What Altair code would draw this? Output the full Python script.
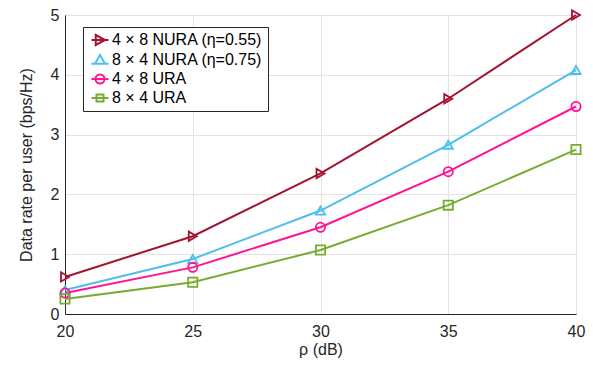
import altair as alt
import pandas as pd

rho = [20, 25, 30, 35, 40]
series_names = [
    "4 × 8 NURA (η=0.55)",
    "8 × 4 NURA (η=0.75)",
    "4 × 8 URA",
    "8 × 4 URA",
]
nura_4x8 = [0.62, 1.30, 2.35, 3.60, 5.00]
nura_8x4 = [0.40, 0.92, 1.73, 2.83, 4.08]
ura_4x8 = [0.35, 0.78, 1.45, 2.38, 3.47]
ura_8x4 = [0.25, 0.53, 1.07, 1.82, 2.75]
colors = ["#A2142F", "#4DBEEE", "#FF1493", "#77AC30"]
shapes = ["triangle-right", "triangle-up", "circle", "square"]
marker_sizes = [85, 85, 66, 46]
legend_shapes = [
    "M -1.7 0 L 1.7 0 M -0.85 -1 L 1 0 L -0.85 1 Z",
    "M -1.7 0.75 L 1.7 0.75 M -1 0.75 L 0 -1 L 1 0.75 Z",
    "M -1.7 0 L -0.9 0 M 0.9 0 L 1.7 0 M -0.9 0 A 0.9 0.9 0 1 0 0.9 0 A 0.9 0.9 0 1 0 -0.9 0 M -0.9 0 L 0.9 0",
    "M -1.7 0 L 1.7 0 M -0.7 -0.7 L 0.7 -0.7 L 0.7 0.7 L -0.7 0.7 Z",
]

rows = []
for name, vals in zip(series_names, [nura_4x8, nura_8x4, ura_4x8, ura_8x4]):
    for x, y in zip(rho, vals):
        rows.append({"series": name, "rho": x, "rate": y})
df = pd.DataFrame(rows)

FONT = "Liberation Sans"
xenc = alt.X("rho:Q", scale=alt.Scale(domain=[20, 40], nice=False),
             axis=alt.Axis(values=[20, 25, 30, 35, 40], title="ρ (dB)"))
yenc = alt.Y("rate:Q", scale=alt.Scale(domain=[0, 5], nice=False),
             axis=alt.Axis(values=[0, 1, 2, 3, 4, 5], title="Data rate per user (bps/Hz)"))

def cscale():
    return alt.Scale(domain=series_names, range=colors)

base = alt.Chart(df)
lines = base.mark_line(strokeWidth=2).encode(
    x=xenc, y=yenc,
    color=alt.Color("series:N", scale=cscale(), legend=None),
    detail="series:N",
)
points = base.mark_point(filled=False, strokeWidth=1.8, opacity=1).encode(
    x=xenc, y=yenc,
    color=alt.Color("series:N", scale=cscale(), legend=None),
    shape=alt.Shape("series:N", scale=alt.Scale(domain=series_names, range=shapes), legend=None),
    size=alt.Size("series:N", scale=alt.Scale(domain=series_names, range=marker_sizes), legend=None),
)
leg = alt.Legend(
    title=None, orient="none", legendX=18, legendY=12,
    strokeColor="#262626", fillColor="white", padding=5,
    labelFont=FONT, labelFontSize=16, labelColor="#000000",
    symbolSize=100, symbolStrokeWidth=2, labelOffset=4, symbolOffset=4,
    rowPadding=2, labelLimit=300,
)
hidden = base.transform_filter("false").mark_point(filled=False, opacity=1).encode(
    x=xenc, y=yenc,
    color=alt.Color("series:N", scale=cscale(), legend=leg),
    shape=alt.Shape("series:N", scale=alt.Scale(domain=series_names, range=legend_shapes), legend=leg),
)

chart = alt.layer(lines, points, hidden).resolve_scale(
    color="independent", shape="independent"
).properties(
    width=511, height=299,
    autosize=alt.AutoSizeParams(type="none"),
    padding={"left": 65, "top": 15, "right": 17, "bottom": 51},
).configure_view(
    stroke="#262626", strokeWidth=1
).configure_axis(
    labelFont=FONT, titleFont=FONT, labelFontSize=16, titleFontSize=16,
    labelColor="#262626", titleColor="#262626", titleFontWeight="normal",
    domainColor="#262626", ticks=False, grid=True, gridColor="#e3e3e3",
    labelFlush=False,
).configure_axisX(labelPadding=9, titlePadding=2).configure_axisY(labelPadding=6, titlePadding=16)

chart.save("out.html", embed_options={"renderer": "svg", "actions": False})
